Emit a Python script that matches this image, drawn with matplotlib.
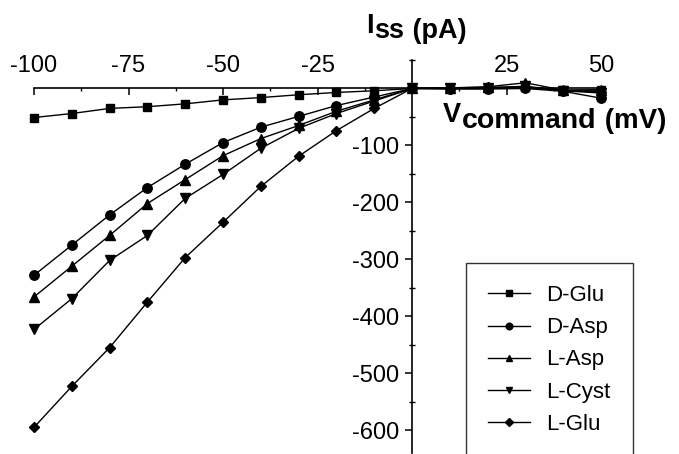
import matplotlib

matplotlib.use("Agg")
import matplotlib.pyplot as plt
from matplotlib.ticker import MultipleLocator

plt.rcParams["font.family"] = ["Liberation Sans", "DejaVu Sans"]

# command voltage (mV)
V = [-100, -90, -80, -70, -60, -50, -40, -30, -20, -10, 0, 10, 20, 30, 40, 50]

# steady-state current (pA)
D_GLU = [-51, -44, -35, -32, -27, -20, -16, -11, -7, -4, 0, 0, 0, 2, -3, -3]
D_ASP = [-328, -275, -222, -174, -133, -95, -68, -49, -30, -15, 0, -1, -1, 0, -5, -17]
L_ASP = [-366, -312, -258, -202, -160, -118, -88, -65, -40, -20, 0, 1, 3, 10, -3, -2]
L_CYST = [-423, -369, -302, -258, -193, -151, -105, -70, -44, -22, 0, 0, 1, 4, -4, -8]
L_GLU = [-595, -523, -455, -375, -297, -235, -172, -119, -74, -35, 0, 1, 2, 3, -4, -6]

SERIES = [
    ("D-Glu", D_GLU, "s", 5.8),
    ("D-Asp", D_ASP, "o", 6.8),
    ("L-Asp", L_ASP, "^", 7.0),
    ("L-Cyst", L_CYST, "v", 7.0),
    ("L-Glu", L_GLU, "D", 5.5),
]

X_TICKS = [-100, -75, -50, -25, 25, 50]
Y_TICKS = [-600, -500, -400, -300, -200, -100]

W, H = 679, 454
fig = plt.figure(figsize=(W / 100, H / 100), dpi=100)
ax = fig.add_axes([34 / W, 1 / H, 567 / W, 393 / H])
ax.set_xlim(-100, 50)
ax.set_ylim(-640, 50)

for label, vals, mk, ms in SERIES:
    ax.plot(V, vals, color="black", lw=1.0, marker=mk, ms=ms,
            mfc="black", mec="black", label=label, clip_on=False, zorder=3)

ax.spines["right"].set_visible(False)
ax.spines["bottom"].set_visible(False)
ax.spines["top"].set_position(("data", 0))
ax.spines["left"].set_position(("data", 0))
for s in ("top", "left"):
    ax.spines[s].set_linewidth(1.2)

ax.xaxis.set_ticks_position("top")
ax.set_xticks(X_TICKS)
ax.set_xticklabels([str(t) for t in X_TICKS])
ax.xaxis.set_minor_locator(MultipleLocator(12.5))
ax.tick_params(axis="x", which="major", direction="in", length=5, width=1.1,
               pad=8, labelsize=17)
ax.tick_params(axis="x", which="minor", direction="in", length=2.5, width=1.0)

ax.set_yticks(Y_TICKS)
ax.set_yticklabels([str(t) for t in Y_TICKS])
ax.yaxis.set_minor_locator(MultipleLocator(50))
ax.tick_params(axis="y", which="major", direction="out", length=5, width=1.1,
               pad=4, labelsize=17)
ax.tick_params(axis="y", which="minor", direction="inout", length=4, width=1.0)


def label_run(x0, parts):
    """Write bold pieces one after another; parts = (text, baseline px from top, size)."""
    prev = None
    for txt, base, size in parts:
        y = H - base
        if prev is None:
            prev = ax.annotate(txt, xy=(x0, y), xycoords="figure pixels",
                               fontsize=size, fontweight="bold",
                               ha="left", va="baseline")
        else:
            prev = ax.annotate(txt, xy=(1, y), xycoords=(prev, "figure pixels"),
                               xytext=(0.5, 0), textcoords="offset points",
                               fontsize=size, fontweight="bold",
                               ha="left", va="baseline")


label_run(366, [("I", 33, 19.5), ("ss", 38, 19.5), (" (pA)", 38, 19.5)])
label_run(443, [("V", 122, 19.5), ("command", 128, 20.5), (" (mV)", 128, 20)])

leg = ax.legend(loc="upper left", bbox_to_anchor=(466 / W, 1 - 263 / H),
                bbox_transform=fig.transFigure, frameon=True, fancybox=False,
                edgecolor="black", fontsize=16, handlelength=1.9,
                labelspacing=0.5, borderpad=1.0, markerscale=0.7,
                handletextpad=0.72, borderaxespad=0)
leg.get_frame().set_linewidth(1.0)

fig.savefig("out.png", dpi=100)
